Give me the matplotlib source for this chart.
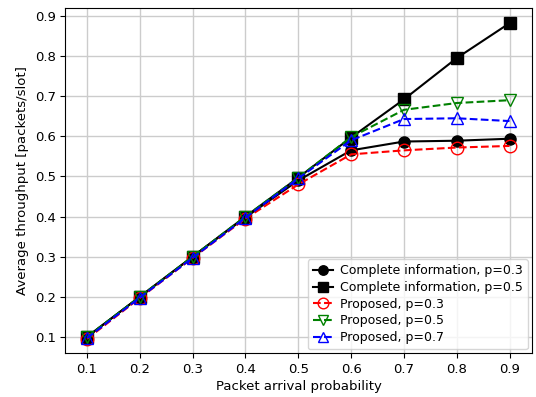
import numpy as np
import matplotlib
matplotlib.use('Agg')
import matplotlib.pyplot as plt

arrival = [0.1, 0.2, 0.3, 0.4, 0.5, 0.6, 0.7, 0.8, 0.9]
complete_p03 = [0.1, 0.2, 0.3, 0.398, 0.49, 0.565, 0.587, 0.589, 0.594]
complete_p05 = [0.1, 0.2, 0.3, 0.4, 0.497, 0.597, 0.692, 0.795, 0.882]
proposed_p03 = [0.095, 0.197, 0.297, 0.395, 0.48, 0.555, 0.565, 0.572, 0.576]
proposed_p05 = [0.1, 0.2, 0.3, 0.4, 0.497, 0.598, 0.666, 0.683, 0.69]
proposed_p07 = [0.097, 0.198, 0.297, 0.397, 0.495, 0.59, 0.643, 0.645, 0.638]

fig = plt.figure(figsize=(5.36, 3.97), dpi=100)
ax = fig.add_axes([0.122, 0.111, 0.870, 0.869])

ax.plot(arrival, complete_p03, '-o', color='black', markersize=8, label='Complete information, p=0.3')
ax.plot(arrival, complete_p05, '-s', color='black', markersize=8, label='Complete information, p=0.5')
ax.plot(arrival, proposed_p03, '--o', color='red', markersize=9, markerfacecolor='none', label='Proposed, p=0.3')
ax.plot(arrival, proposed_p05, '--v', color='green', markersize=9, markerfacecolor='none', label='Proposed, p=0.5')
ax.plot(arrival, proposed_p07, '--^', color='blue', markersize=9, markerfacecolor='none', label='Proposed, p=0.7')

ax.set_xticks(arrival)
ax.set_yticks([0.1, 0.2, 0.3, 0.4, 0.5, 0.6, 0.7, 0.8, 0.9])
ax.set_xlim(0.059, 0.942)
ax.set_ylim(0.06, 0.92)
ax.tick_params(labelsize=9.5)
ax.grid(True, color='#cccccc', linewidth=1)
ax.set_xlabel('Packet arrival probability', labelpad=3, fontsize=9.5)
ax.set_ylabel('Average throughput [packets/slot]', fontsize=9.5)
ax.legend(loc='lower right', fontsize=9, borderaxespad=0.3, labelspacing=0.3,
          handlelength=1.6, handletextpad=0.6, markerscale=0.85)

fig.savefig('out.png', dpi=100)
